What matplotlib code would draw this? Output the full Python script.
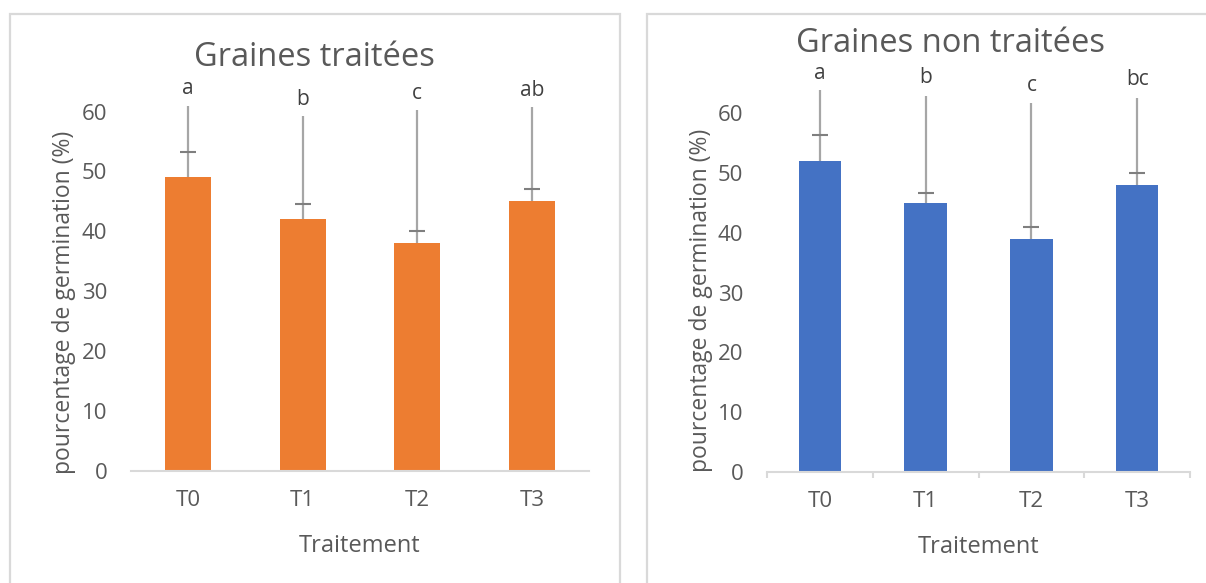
import matplotlib.pyplot as plt
from matplotlib.patches import Rectangle
import numpy as np

plt.rcParams['font.family'] = ['Open Sans', 'DejaVu Sans']

categories = ['T0', 'T1', 'T2', 'T3']
yticks = [0, 10, 20, 30, 40, 50, 60]

# treated seeds
treated_mean = [49, 42, 38, 45]
treated_err = [4.3, 2.6, 2.0, 2.0]
treated_groups = ['a', 'b', 'c', 'ab']
treated_line_top = [60.9, 59.2, 60.3, 60.7]
treated_group_y = [63.8, 62.1, 63.1, 63.6]

# untreated seeds
untreated_mean = [52, 45, 39, 48]
untreated_err = [4.4, 1.7, 2.0, 2.0]
untreated_groups = ['a', 'b', 'c', 'bc']
untreated_line_top = [63.9, 62.9, 61.7, 62.6]
untreated_group_y = [66.6, 65.9, 64.6, 65.6]

TEXT = '#595959'
GRID = '#D9D9D9'
W, H = 1206, 583


def px_box(left, right, zero_y, unit_px):
    # axes rect in figure fraction, y range 0..70
    return [left / W, (H - zero_y) / H, (right - left) / W, 70 * unit_px / H]


def draw_panel(ax, means, errs, groups, tops, group_y, color, title, title_x, title_y,
               boundary_ticks, ylabel_xy):
    x = np.arange(len(categories))
    means = np.array(means)
    caps = means + np.array(errs)
    ax.bar(x, means, width=0.4, color=color, zorder=2)
    # leader line up to the group letter, then the upper error cap
    ax.vlines(x, means, tops, color='#A6A6A6', lw=1.6, zorder=3, clip_on=False)
    ax.plot(x, caps, ls='none', marker='_', ms=12, mew=1.5, color='#7F7F7F', zorder=4)
    for xi, g, gy in zip(x, groups, group_y):
        ax.text(xi, gy, g, ha='center', va='center', fontsize=15, color='#404040', clip_on=False)

    ax.set_xlim(-0.5, len(categories) - 0.5)
    ax.set_ylim(0, 70)
    ax.set_yticks(yticks)
    ax.set_xticks(x)
    ax.set_xticklabels(categories)
    for s in ['top', 'right', 'left']:
        ax.spines[s].set_visible(False)
    ax.spines['bottom'].set_color(GRID)
    ax.spines['bottom'].set_linewidth(1.5)
    ax.tick_params(axis='y', length=0, pad=17, labelsize=16, labelcolor=TEXT)
    ax.tick_params(axis='x', which='major', length=0, pad=14, labelsize=16, labelcolor=TEXT)
    if boundary_ticks:
        ax.set_xticks(np.arange(-0.5, len(categories)), minor=True)
        ax.tick_params(axis='x', which='minor', length=4.5, width=1.5, color=GRID, direction='out')
    ax.set_xlabel('Traitement', fontsize=17, color=TEXT, labelpad=16)
    ax.set_ylabel('pourcentage de germination (%)', fontsize=16.5, color=TEXT)
    ax.yaxis.set_label_coords(*ylabel_xy)
    ax.figure.text(title_x / W, 1 - title_y / H, title, ha='center', va='center',
                   fontsize=23.5, color=TEXT)


fig = plt.figure(figsize=(12.06, 5.83), dpi=100)

# chart frames
fig.patches.append(Rectangle((9.5 / W, -0.1), 610 / W, 1.1 - 14 / H, transform=fig.transFigure,
                             fill=False, edgecolor=GRID, lw=1.6))
fig.patches.append(Rectangle((646.5 / W, -0.1), 600 / W, 1.1 - 14.5 / H, transform=fig.transFigure,
                             fill=False, edgecolor=GRID, lw=1.6))

ax1 = fig.add_axes(px_box(131, 589, 471, 5.99))
draw_panel(ax1, treated_mean, treated_err, treated_groups, treated_line_top, treated_group_y,
           '#ED7D31', 'Graines traitées', 314, 57.6, False, (-0.12, 0.403))

ax2 = fig.add_axes(px_box(767, 1190, 472, 5.98))
draw_panel(ax2, untreated_mean, untreated_err, untreated_groups, untreated_line_top, untreated_group_y,
           '#4472C4', 'Graines non traitées', 950, 44, True, (-0.128, 0.411))

fig.savefig('out.png', dpi=100)
